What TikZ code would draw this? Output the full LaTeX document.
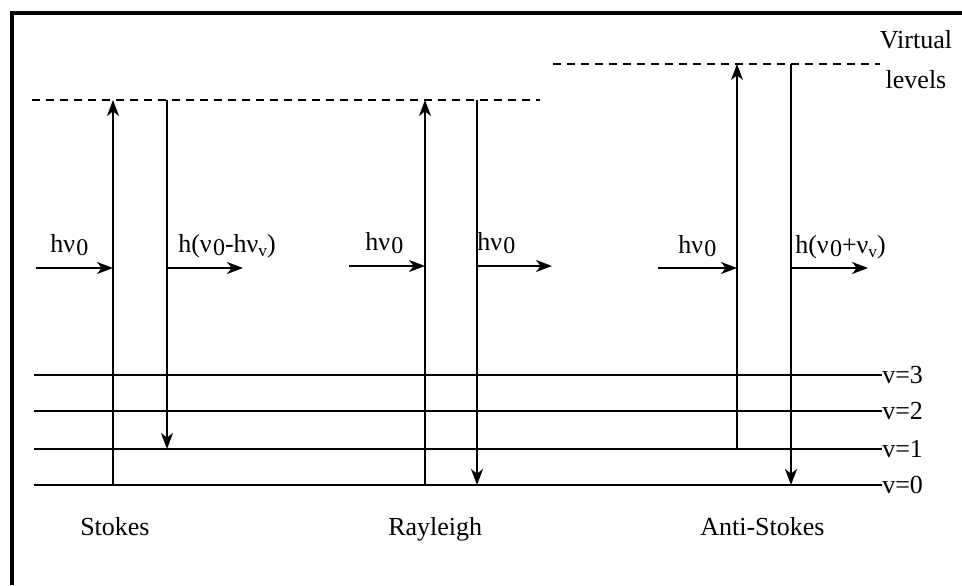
\documentclass[tikz,border=0pt]{standalone}
\usepackage{fontspec}
\setmainfont{Liberation Serif}
\usetikzlibrary{arrows.meta}
\newcommand{\nuz}{ν\kern1pt\raisebox{-0.3ex}{\fontsize{18}{18}\selectfont 0}}
\newcommand{\nuv}{ν\raisebox{-0.35ex}{\fontsize{13}{13}\selectfont v}}

\begin{document}
\begin{tikzpicture}[x=0.75pt,y=-0.75pt,>={Stealth[length=12pt,width=9pt,inset=3.5pt]},
  level/.style={line width=1.5pt},
  virt/.style={line width=1.5pt,dash pattern=on 6pt off 4.5pt},
  trans/.style={line width=1.5pt,->},
  photon/.style={line width=1.3pt,->},
  lab/.style={font=\fontsize{19.5}{30}\selectfont,inner sep=0pt}]
\useasboundingbox (0,0) rectangle (962,585);
\draw[line width=3.5pt] (12,585) -- (12,13) -- (962,13);

% vibrational levels
\foreach \n/\y in {3/375,2/411,1/449,0/485} {
  \coordinate (L\n) at (34,\y);
  \node[lab,anchor=west] (vl\n) at (882,\y) {v=\n};
  \draw[level] (L\n) -- (vl\n.west);
}

% virtual levels
\coordinate (VSw) at (32,100);
\coordinate (VSe) at (540,100);
\coordinate (VAw) at (553,64);
\coordinate (VAe) at (880,64);
\draw[virt] (VSw) -- (VSe);
\draw[virt] (VAw) -- (VAe);
\node[lab,align=center] (virtlab) at (916,60) {Virtual\\levels};

% Stokes
\coordinate (su0) at (113,485);
\coordinate (su1) at (113,100);
\coordinate (sd0) at (167,100);
\coordinate (sd1) at (167,449);
\draw[trans] (su0) -- (su1);
\draw[trans] (sd0) -- (sd1);
\coordinate (sin) at (36,268);
\coordinate (sout) at (243,268);
\draw[photon] (sin) -- (sin -| su0);
\draw[photon] (sout -| sd0) -- (sout);
\node[lab,anchor=base west] (sinlab) at (50,252) {h\nuz};
\node[lab,anchor=base west] (soutlab) at (178,252) {h(\nuz-h\nuv)};
\node[lab,anchor=base west] (stokes) at (80,535) {Stokes};

% Rayleigh
\coordinate (ru0) at (425,485);
\coordinate (ru1) at (425,100);
\coordinate (rd0) at (477,100);
\coordinate (rd1) at (477,485);
\draw[trans] (ru0) -- (ru1);
\draw[trans] (rd0) -- (rd1);
\coordinate (rin) at (349,266);
\coordinate (rout) at (552,266);
\draw[photon] (rin) -- (rin -| ru0);
\draw[photon] (rout -| rd0) -- (rout);
\node[lab,anchor=base west] (rinlab) at (365,250) {h\nuz};
\node[lab,anchor=base west] (routlab) at (477,250) {h\nuz};
\node[lab,anchor=base west] (rayleigh) at (388,535) {Rayleigh};

% Anti-Stokes
\coordinate (au0) at (737,449);
\coordinate (au1) at (737,64);
\coordinate (ad0) at (791,64);
\coordinate (ad1) at (791,485);
\draw[trans] (au0) -- (au1);
\draw[trans] (ad0) -- (ad1);
\coordinate (ain) at (658,268);
\coordinate (aout) at (868,268);
\draw[photon] (ain) -- (ain -| au0);
\draw[photon] (aout -| ad0) -- (aout);
\node[lab,anchor=base west] (ainlab) at (678,253) {h\nuz};
\node[lab,anchor=base west] (aoutlab) at (795,253) {h(\nuz+\nuv)};
\node[lab,anchor=base west] (antistokes) at (700,535) {Anti-Stokes};
\end{tikzpicture}
\end{document}
